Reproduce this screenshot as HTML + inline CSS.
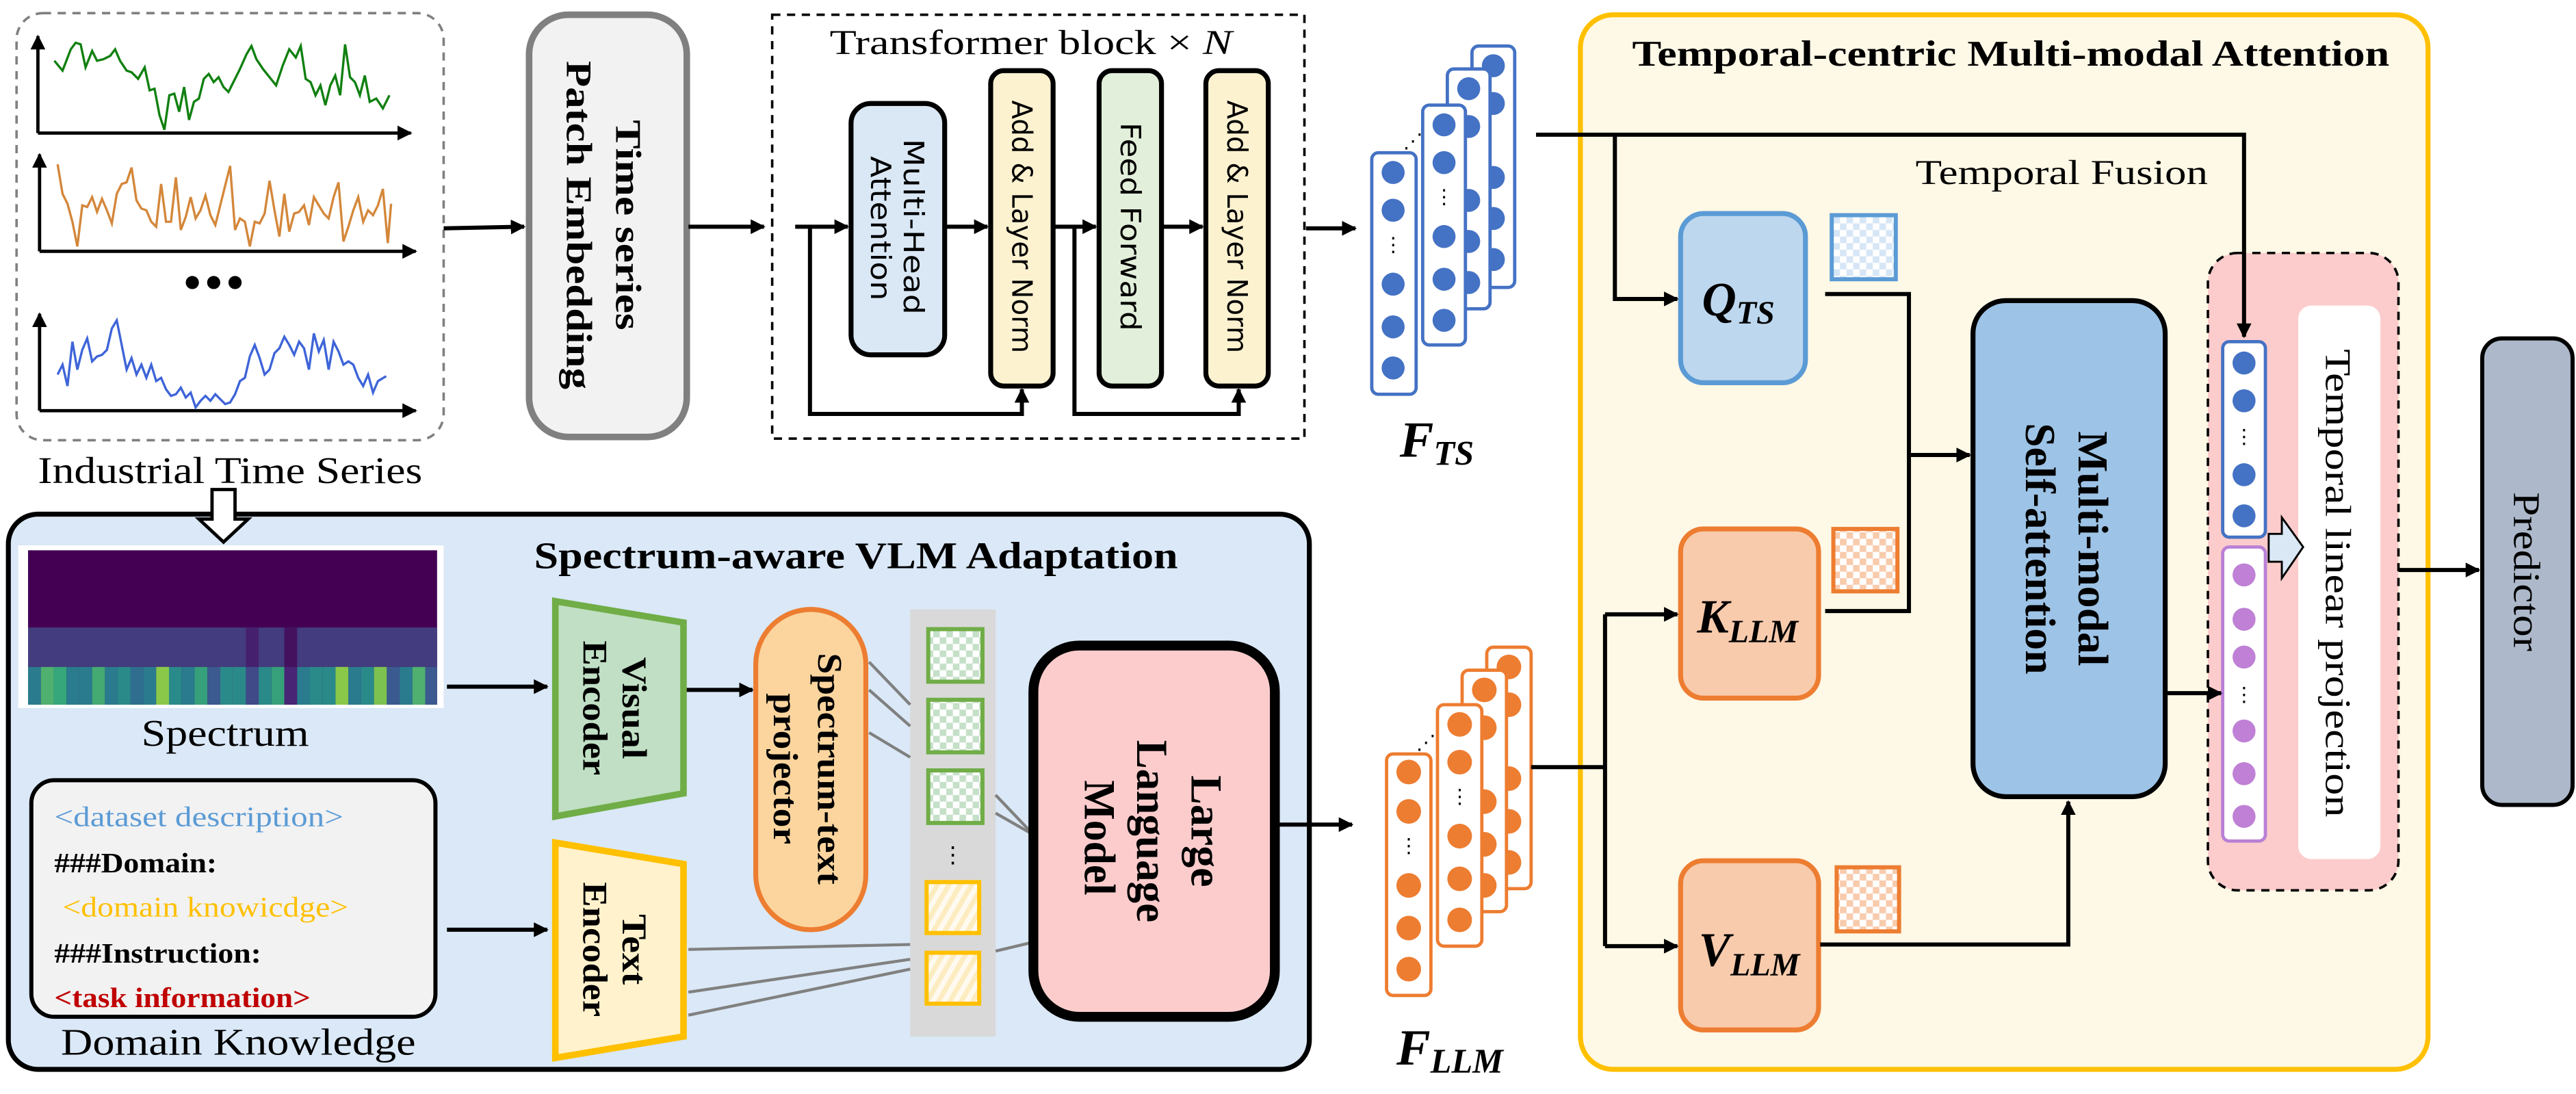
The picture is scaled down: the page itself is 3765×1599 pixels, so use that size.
<!DOCTYPE html>
<html><head><meta charset="utf-8"><style>html,body{margin:0;padding:0;background:#fff}svg{display:block;font-family:"Liberation Serif","Times New Roman",serif}</style></head><body>
<svg xmlns="http://www.w3.org/2000/svg" width="3765" height="1599" viewBox="0 0 1568 666">
<defs>
<marker id="ah" viewBox="0 0 10 10" refX="9" refY="5" markerWidth="9" markerHeight="9" markerUnits="userSpaceOnUse" orient="auto"><path d="M0,0 L10,5 L0,10 z" fill="#000"/></marker>
<pattern id="ckB" width="8" height="8" patternUnits="userSpaceOnUse"><rect width="8" height="8" fill="#fff"/><rect width="4" height="4" fill="#d6e6f6"/><rect x="4" y="4" width="4" height="4" fill="#d6e6f6"/></pattern>
<pattern id="ckO" width="8" height="8" patternUnits="userSpaceOnUse"><rect width="8" height="8" fill="#fff"/><rect width="4" height="4" fill="#f8cbad"/><rect x="4" y="4" width="4" height="4" fill="#f8cbad"/></pattern>
<pattern id="ckG" width="8" height="8" patternUnits="userSpaceOnUse"><rect width="8" height="8" fill="#fff"/><rect width="4" height="4" fill="#c5e0c8"/><rect x="4" y="4" width="4" height="4" fill="#c5e0c8"/></pattern>
<pattern id="hY" width="6" height="6" patternUnits="userSpaceOnUse" patternTransform="rotate(30)"><rect width="6" height="6" fill="#fffaf0"/><rect width="3" height="6" fill="#fdecc0"/></pattern>
</defs>

<rect x="10" y="8" width="260" height="260" rx="16" fill="#fff" stroke="#808080" stroke-width="1.5" stroke-dasharray="5,4"/>
<g stroke="#000" stroke-width="2" fill="none">
<path d="M23,81 V22" marker-end="url(#ah)"/><path d="M23,81 H250" marker-end="url(#ah)"/>
<path d="M24,153 V94" marker-end="url(#ah)"/><path d="M24,153 H253" marker-end="url(#ah)"/>
<path d="M24,250 V191" marker-end="url(#ah)"/><path d="M24,250 H253" marker-end="url(#ah)"/>
</g>
<polyline fill="none" stroke="#108010" stroke-width="1.4" points="33,37 38,43 43,30 46,26 49,27 52,41 56,31 59,37 63,36 67,34 70,30 73,37 77,43 80,44 84,48 88,41 91,55 94,54 97,70 100,79 103,58 106,57 109,68 112,53 115,73 118,62 121,60 124,48 127,45 130,50 133,47 136,53 139,56 142,50 146,42 150,33 153,28 156,36 160,42 164,47 168,52 172,40 176,30 180,35 183,28 186,48 189,50 192,58 195,52 198,64 201,52 204,46 207,58 210,27 213,47 216,50 219,58 222,46 225,62 229,60 233,66 237,58"/>
<polyline fill="none" stroke="#d4873a" stroke-width="1.4" points="35,100 38,118 41,124 44,135 47,150 50,125 53,126 56,120 59,129 62,121 65,128 68,136 71,118 74,112 77,111 80,102 83,122 86,127 89,128 92,135 95,138 98,112 101,135 104,135 107,108 110,140 113,132 116,120 119,133 122,128 125,119 128,131 131,137 134,125 137,113 140,101 143,140 146,133 149,135 152,150 155,135 158,136 161,130 164,110 167,128 170,144 173,118 176,141 179,130 182,129 185,125 188,137 191,120 194,125 197,130 200,133 203,120 206,111 209,147 212,138 215,128 218,120 221,135 224,128 227,131 230,125 233,115 236,148 238,124"/>
<polyline fill="none" stroke="#3e64d8" stroke-width="1.4" points="35,228 38,222 41,235 44,208 47,225 50,213 53,206 56,220 59,217 62,216 65,213 68,200 71,195 74,210 77,225 80,218 83,228 86,222 89,230 92,222 95,232 98,230 101,237 104,241 107,240 110,236 113,242 116,239 119,248 122,244 125,241 128,244 131,240 134,243 137,246 140,245 143,240 146,232 149,230 152,217 155,210 158,218 161,228 164,225 167,215 170,212 173,205 176,210 179,216 182,208 185,212 188,225 191,203 194,214 197,207 200,225 203,208 206,214 209,222 212,220 215,222 218,230 221,235 224,228 227,239 230,232 235,229"/>
<g fill="#000"><circle cx="117" cy="172" r="4"/><circle cx="130" cy="172" r="4"/><circle cx="143" cy="172" r="4"/></g>
<text x="140" y="294" font-size="23" text-anchor="middle" textLength="234" lengthAdjust="spacingAndGlyphs">Industrial Time Series</text>

<rect x="322" y="9" width="96" height="257" rx="24" fill="#f2f2f2" stroke="#808080" stroke-width="4"/>
<g font-weight="bold" font-size="22" text-anchor="middle">
<text transform="translate(382,137) rotate(90)" dominant-baseline="central" textLength="128" lengthAdjust="spacingAndGlyphs">Time series</text>
<text transform="translate(352,137) rotate(90)" dominant-baseline="central" textLength="200" lengthAdjust="spacingAndGlyphs">Patch Embedding</text>
</g>
<g stroke="#000" stroke-width="2.5" fill="none">
<path d="M270,139 L319,138" marker-end="url(#ah)"/>
<path d="M419,138 H465" marker-end="url(#ah)"/>
</g>

<rect x="470" y="9" width="324" height="258" fill="#fff" stroke="#000" stroke-width="1.5" stroke-dasharray="5,4"/>
<text x="505" y="33" font-size="21" textLength="245" lengthAdjust="spacingAndGlyphs">Transformer block  × <tspan font-style="italic">N</tspan></text>
<rect x="518" y="63" width="57" height="153" rx="12" fill="#dae8f5" stroke="#000" stroke-width="3"/>
<rect x="603" y="43" width="38" height="192" rx="8" fill="#fdf2d0" stroke="#000" stroke-width="3"/>
<rect x="669" y="43" width="38" height="192" rx="8" fill="#e2efda" stroke="#000" stroke-width="3"/>
<rect x="734" y="43" width="38" height="192" rx="8" fill="#fdf2d0" stroke="#000" stroke-width="3"/>
<g style="font-family:'DejaVu Sans','Liberation Sans',sans-serif" font-size="17" text-anchor="middle">
<text transform="translate(556,138) rotate(90)" dominant-baseline="central" textLength="107" lengthAdjust="spacingAndGlyphs">Multi-Head</text>
<text transform="translate(536,139) rotate(90)" dominant-baseline="central" textLength="88" lengthAdjust="spacingAndGlyphs">Attention</text>
<text transform="translate(622,138) rotate(90)" dominant-baseline="central" textLength="154" lengthAdjust="spacingAndGlyphs">Add &amp; Layer Norm</text>
<text transform="translate(688,138) rotate(90)" dominant-baseline="central" textLength="127" lengthAdjust="spacingAndGlyphs">Feed Forward</text>
<text transform="translate(753,138) rotate(90)" dominant-baseline="central" textLength="154" lengthAdjust="spacingAndGlyphs">Add &amp; Layer Norm</text>
</g>
<g stroke="#000" stroke-width="2.5" fill="none">
<path d="M484,138 H516" marker-end="url(#ah)"/>
<path d="M575,138 H601" marker-end="url(#ah)"/>
<path d="M641,138 H667" marker-end="url(#ah)"/>
<path d="M707,138 H732" marker-end="url(#ah)"/>
<path d="M493,138 V252 H622 V237" marker-end="url(#ah)"/>
<path d="M654,138 V252 H754 V237" marker-end="url(#ah)"/>
<path d="M795,139 H825" marker-end="url(#ah)"/>
</g>

<!-- F_TS stacks (back to front) -->
<g stroke-width="2">
<rect x="896" y="28" width="26" height="147" rx="4" fill="#fff" stroke="#4472c4"/>
<g fill="#4472c4"><circle cx="909" cy="40" r="7"/><circle cx="909" cy="63" r="7"/><circle cx="909" cy="108" r="7"/><circle cx="909" cy="133" r="7"/><circle cx="909" cy="158" r="7"/></g>
<rect x="881" y="42" width="26" height="146" rx="4" fill="#fff" stroke="#4472c4"/>
<g fill="#4472c4"><circle cx="894" cy="54" r="7"/><circle cx="894" cy="77" r="7"/><circle cx="894" cy="122" r="7"/><circle cx="894" cy="147" r="7"/><circle cx="894" cy="172" r="7"/></g>
<rect x="866" y="64" width="26" height="146" rx="4" fill="#fff" stroke="#4472c4"/>
<g fill="#4472c4"><circle cx="879" cy="76" r="7"/><circle cx="879" cy="99" r="7"/><circle cx="879" cy="144" r="7"/><circle cx="879" cy="170" r="7"/><circle cx="879" cy="195" r="7"/></g>
<rect x="835" y="93" width="27" height="147" rx="4" fill="#fff" stroke="#4472c4"/>
<g fill="#4472c4"><circle cx="848" cy="105" r="7"/><circle cx="848" cy="128" r="7"/><circle cx="848" cy="173" r="7"/><circle cx="848" cy="199" r="7"/><circle cx="848" cy="224" r="7"/></g>
</g>
<g font-size="12" text-anchor="middle"><text x="848" y="153">⋮</text><text x="879" y="124">⋮</text><text x="860" y="90">⋰</text></g>
<text x="852" y="278" font-size="31" font-weight="bold" font-style="italic">F<tspan font-size="21" dy="5">TS</tspan></text>

<rect x="5" y="313" width="792" height="338" rx="18" fill="#dae8f7" stroke="#000" stroke-width="3"/>
<path d="M129,298 H143 V316 H151 L136,330 L121,316 H129 Z" fill="#fff" stroke="#000" stroke-width="2"/>
<text x="521" y="346" font-size="23" font-weight="bold" text-anchor="middle" textLength="392" lengthAdjust="spacingAndGlyphs">Spectrum-aware VLM Adaptation</text>

<rect x="11" y="332" width="259" height="99" fill="#fff"/>
<rect x="17" y="335" width="249" height="94" fill="#440154"/>
<g>
<rect x="17" y="382" width="249" height="24" fill="#433c7e"/>
<rect x="17.0" y="406" width="7.8" height="23" fill="#2a7b8e"/><rect x="24.8" y="406" width="7.8" height="23" fill="#50b06f"/><rect x="32.6" y="406" width="7.8" height="23" fill="#35a77a"/><rect x="40.4" y="406" width="7.8" height="23" fill="#2a7b8e"/><rect x="48.2" y="406" width="7.8" height="23" fill="#2a7b8e"/><rect x="56.0" y="406" width="7.8" height="23" fill="#44aa72"/><rect x="63.8" y="406" width="7.8" height="23" fill="#2a7b8e"/><rect x="71.6" y="406" width="7.8" height="23" fill="#2a8a8a"/><rect x="79.4" y="406" width="7.8" height="23" fill="#2f6e8e"/><rect x="87.2" y="406" width="7.8" height="23" fill="#2a7b8e"/><rect x="95.0" y="406" width="7.8" height="23" fill="#8ac84a"/><rect x="102.8" y="406" width="7.8" height="23" fill="#2a8a8a"/><rect x="110.6" y="406" width="7.8" height="23" fill="#2a7b8e"/><rect x="118.4" y="406" width="7.8" height="23" fill="#35a07a"/><rect x="126.2" y="406" width="7.8" height="23" fill="#3b5a8f"/><rect x="134.0" y="406" width="7.8" height="23" fill="#2a8a8a"/><rect x="141.8" y="406" width="7.8" height="23" fill="#2a8a8a"/><rect x="149.6" y="406" width="7.8" height="23" fill="#404a88"/><rect x="157.4" y="406" width="7.8" height="23" fill="#2a8a8a"/><rect x="165.2" y="406" width="7.8" height="23" fill="#35a07a"/><rect x="173.0" y="406" width="7.8" height="23" fill="#482575"/><rect x="180.8" y="406" width="7.8" height="23" fill="#2a7b8e"/><rect x="188.6" y="406" width="7.8" height="23" fill="#2a8a8a"/><rect x="196.4" y="406" width="7.8" height="23" fill="#2a8a8a"/><rect x="204.2" y="406" width="7.8" height="23" fill="#8ac84a"/><rect x="212.0" y="406" width="7.8" height="23" fill="#2a7b8e"/><rect x="219.8" y="406" width="7.8" height="23" fill="#2a8a8a"/><rect x="227.6" y="406" width="7.8" height="23" fill="#7cc250"/><rect x="235.4" y="406" width="7.8" height="23" fill="#3b5a8f"/><rect x="243.2" y="406" width="7.8" height="23" fill="#2a7b8e"/><rect x="251.0" y="406" width="7.8" height="23" fill="#50b06f"/><rect x="258.8" y="406" width="7.2" height="23" fill="#3b5a8f"/>
<rect x="173" y="382" width="7.8" height="24" fill="#44115f"/><rect x="149.6" y="382" width="7.8" height="24" fill="#45206e"/>
</g>
<text x="137" y="454" font-size="23" text-anchor="middle" textLength="102" lengthAdjust="spacingAndGlyphs">Spectrum</text>

<rect x="19" y="475" width="246" height="144" rx="14" fill="#f2f2f2" stroke="#000" stroke-width="2.5"/>
<g font-size="17" font-weight="bold">
<text x="33" y="503" fill="#5b9bd5" font-weight="normal" textLength="176" lengthAdjust="spacingAndGlyphs">&lt;dataset description&gt;</text>
<text x="33" y="531" fill="#000" textLength="99" lengthAdjust="spacingAndGlyphs">###Domain:</text>
<text x="38" y="558" fill="#ffc000" font-weight="normal" textLength="174" lengthAdjust="spacingAndGlyphs">&lt;domain knowicdge&gt;</text>
<text x="33" y="586" fill="#000" textLength="126" lengthAdjust="spacingAndGlyphs">###Instruction:</text>
<text x="33" y="613" fill="#c00000" textLength="156" lengthAdjust="spacingAndGlyphs">&lt;task information&gt;</text>
</g>
<text x="145" y="642" font-size="23" text-anchor="middle" textLength="216" lengthAdjust="spacingAndGlyphs">Domain Knowledge</text>

<g stroke="#000" stroke-width="2.5" fill="none">
<path d="M272,418 H333" marker-end="url(#ah)"/>
<path d="M272,566 H333" marker-end="url(#ah)"/>
<path d="M416,420 H458" marker-end="url(#ah)"/>
</g>
<path d="M338,366 L416,379 L416,483 L338,497 Z" fill="#c0dfc4" stroke="#70ad47" stroke-width="4"/>
<path d="M338,513 L416,526 L416,631 L338,644 Z" fill="#fff2cc" stroke="#ffc000" stroke-width="4"/>
<g font-weight="bold" font-size="21" text-anchor="middle">
<text transform="translate(386,431) rotate(90)" dominant-baseline="central" textLength="62" lengthAdjust="spacingAndGlyphs">Visual</text>
<text transform="translate(362,431) rotate(90)" dominant-baseline="central" textLength="82" lengthAdjust="spacingAndGlyphs">Encoder</text>
<text transform="translate(386,578) rotate(90)" dominant-baseline="central" textLength="43" lengthAdjust="spacingAndGlyphs">Text</text>
<text transform="translate(362,578) rotate(90)" dominant-baseline="central" textLength="82" lengthAdjust="spacingAndGlyphs">Encoder</text>
</g>
<rect x="460" y="371" width="67" height="195" rx="33.5" fill="#fcd59e" stroke="#ed7d31" stroke-width="3"/>
<g font-weight="bold" font-size="21" text-anchor="middle">
<text transform="translate(505,468) rotate(90)" dominant-baseline="central" textLength="141" lengthAdjust="spacingAndGlyphs">Spectrum-text</text>
<text transform="translate(478,468) rotate(90)" dominant-baseline="central" textLength="92" lengthAdjust="spacingAndGlyphs">projector</text>
</g>
<rect x="554" y="371" width="52" height="260" fill="#d9d9d9"/>
<g stroke="#70ad47" stroke-width="2.5" fill="url(#ckG)">
<rect x="565" y="383" width="33" height="32"/><rect x="565" y="426" width="33" height="32"/><rect x="565" y="469" width="33" height="32"/>
</g>
<g stroke="#ffc000" stroke-width="2.5" fill="url(#hY)">
<rect x="564" y="537" width="32" height="31"/><rect x="564" y="580" width="32" height="31"/>
</g>
<text x="580" y="525" font-size="14" text-anchor="middle">⋮</text>
<g stroke="#808080" stroke-width="1.8">
<line x1="529" y1="403" x2="554" y2="429"/><line x1="529" y1="420" x2="554" y2="442"/><line x1="529" y1="446" x2="554" y2="461"/>
<line x1="606" y1="484" x2="627" y2="506"/><line x1="606" y1="495" x2="627" y2="507"/>
<line x1="419" y1="578" x2="554" y2="575"/><line x1="419" y1="604" x2="554" y2="584"/><line x1="419" y1="618" x2="554" y2="590"/>
<line x1="606" y1="579" x2="627" y2="574"/>
</g>
<rect x="629" y="393" width="147" height="226" rx="28" fill="#fccccc" stroke="#000" stroke-width="6"/>
<g font-weight="bold" font-size="27" text-anchor="middle">
<text transform="translate(734,506) rotate(90)" dominant-baseline="central" textLength="68" lengthAdjust="spacingAndGlyphs">Large</text>
<text transform="translate(701,506) rotate(90)" dominant-baseline="central" textLength="111" lengthAdjust="spacingAndGlyphs">Language</text>
<text transform="translate(669,510) rotate(90)" dominant-baseline="central" textLength="70" lengthAdjust="spacingAndGlyphs">Model</text>
</g>
<path d="M779,502 H823" stroke="#000" stroke-width="2.5" fill="none" marker-end="url(#ah)"/>

<!-- F_LLM stacks (back to front) -->
<g stroke-width="2">
<rect x="905" y="394" width="27" height="147" rx="4" fill="#fff" stroke="#ed7d31"/>
<g fill="#ed7d31"><circle cx="918.5" cy="406" r="7.5"/><circle cx="918.5" cy="429" r="7.5"/><circle cx="918.5" cy="474" r="7.5"/><circle cx="918.5" cy="500" r="7.5"/><circle cx="918.5" cy="525" r="7.5"/></g>
<rect x="890" y="408" width="27" height="147" rx="4" fill="#fff" stroke="#ed7d31"/>
<g fill="#ed7d31"><circle cx="903.5" cy="420" r="7.5"/><circle cx="903.5" cy="443" r="7.5"/><circle cx="903.5" cy="488" r="7.5"/><circle cx="903.5" cy="514" r="7.5"/><circle cx="903.5" cy="539" r="7.5"/></g>
<rect x="875" y="429" width="27" height="147" rx="4" fill="#fff" stroke="#ed7d31"/>
<g fill="#ed7d31"><circle cx="888.5" cy="441" r="7.5"/><circle cx="888.5" cy="464" r="7.5"/><circle cx="888.5" cy="509" r="7.5"/><circle cx="888.5" cy="535" r="7.5"/><circle cx="888.5" cy="560" r="7.5"/></g>
<rect x="844" y="459" width="27" height="147" rx="4" fill="#fff" stroke="#ed7d31"/>
<g fill="#ed7d31"><circle cx="857.5" cy="470" r="7.5"/><circle cx="857.5" cy="494" r="7.5"/><circle cx="857.5" cy="539" r="7.5"/><circle cx="857.5" cy="565" r="7.5"/><circle cx="857.5" cy="590" r="7.5"/></g>
</g>
<g font-size="12" text-anchor="middle"><text x="857.5" y="519">⋮</text><text x="888.5" y="489">⋮</text><text x="868" y="456">⋰</text></g>
<text x="850" y="648" font-size="31" font-weight="bold" font-style="italic">F<tspan font-size="21" dy="5">LLM</tspan></text>

<rect x="962" y="9" width="516" height="642" rx="20" fill="#fef8e6" stroke="#ffc000" stroke-width="3"/>
<text x="1224" y="40" font-size="22" font-weight="bold" text-anchor="middle" textLength="461" lengthAdjust="spacingAndGlyphs">Temporal-centric Multi-modal Attention</text>
<text x="1255" y="112" font-size="21" text-anchor="middle" textLength="178" lengthAdjust="spacingAndGlyphs">Temporal Fusion</text>

<rect x="1344" y="154" width="116" height="388" rx="18" fill="#fccccc" stroke="#000" stroke-width="1.5" stroke-dasharray="5,4"/>
<rect x="1399" y="186" width="50" height="337" rx="8" fill="#fff"/>
<text transform="translate(1423,355) rotate(90)" dominant-baseline="central" font-size="22" text-anchor="middle" textLength="285" lengthAdjust="spacingAndGlyphs">Temporal linear projection</text>
<rect x="1353" y="208" width="26" height="119" rx="4" fill="#fff" stroke="#4472c4" stroke-width="2"/>
<g fill="#4472c4"><circle cx="1366" cy="221" r="7"/><circle cx="1366" cy="244" r="7"/><circle cx="1366" cy="289" r="7"/><circle cx="1366" cy="314" r="7"/></g>
<text x="1366" y="270" font-size="12" text-anchor="middle">⋮</text>
<rect x="1353" y="333" width="26" height="179" rx="4" fill="#fff" stroke="#b880d6" stroke-width="2"/>
<g fill="#bf80d6"><circle cx="1366" cy="350" r="7"/><circle cx="1366" cy="377" r="7"/><circle cx="1366" cy="400" r="7"/><circle cx="1366" cy="445" r="7"/><circle cx="1366" cy="471" r="7"/><circle cx="1366" cy="497" r="7"/></g>
<text x="1366" y="427" font-size="12" text-anchor="middle">⋮</text>
<path d="M1381,325 H1389 V315 L1402,333 L1389,352 V342 H1381 Z" fill="#dae8f5" stroke="#000" stroke-width="1.2"/>

<rect x="1023" y="130" width="76" height="103" rx="14" fill="#bdd7ee" stroke="#5b9bd5" stroke-width="3"/>
<rect x="1023" y="322" width="84" height="103" rx="14" fill="#f8cbad" stroke="#ed7d31" stroke-width="3"/>
<rect x="1023" y="524" width="84" height="103" rx="14" fill="#f8cbad" stroke="#ed7d31" stroke-width="3"/>
<rect x="1115" y="131" width="39" height="39" fill="url(#ckB)" stroke="#5b9bd5" stroke-width="2.5"/>
<rect x="1116" y="322" width="39" height="38" fill="url(#ckO)" stroke="#ed7d31" stroke-width="2.5"/>
<rect x="1118" y="528" width="38" height="39" fill="url(#ckO)" stroke="#ed7d31" stroke-width="2.5"/>
<g font-weight="bold" font-style="italic" font-size="29">
<text x="1036" y="192">Q<tspan font-size="20" dy="5">TS</tspan></text>
<text x="1033" y="385">K<tspan font-size="20" dy="6">LLM</tspan></text>
<text x="1034" y="588">V<tspan font-size="20" dy="6">LLM</tspan></text>
</g>

<rect x="1201" y="183" width="117" height="302" rx="20" fill="#9dc3e6" stroke="#000" stroke-width="3"/>
<g font-weight="bold" font-size="26" text-anchor="middle">
<text transform="translate(1274,334) rotate(90)" dominant-baseline="central" textLength="143" lengthAdjust="spacingAndGlyphs">Multi-modal</text>
<text transform="translate(1242,334) rotate(90)" dominant-baseline="central" textLength="153" lengthAdjust="spacingAndGlyphs">Self-attention</text>
</g>

<rect x="1511" y="206" width="55" height="284" rx="12" fill="#adb9ca" stroke="#000" stroke-width="2.5"/>
<text transform="translate(1538,348) rotate(90)" dominant-baseline="central" font-size="23" text-anchor="middle" textLength="97" lengthAdjust="spacingAndGlyphs">Predictor</text>

<g stroke="#000" stroke-width="2.5" fill="none">
<path d="M935,82 H1366 V205" marker-end="url(#ah)"/>
<path d="M983,82 V182 H1021" marker-end="url(#ah)"/>
<path d="M1111,179 H1162 V372 H1111"/>
<path d="M1162,277 H1199" marker-end="url(#ah)"/>
<path d="M932,467 H977"/>
<path d="M977,374 V576"/>
<path d="M977,374 H1021" marker-end="url(#ah)"/>
<path d="M977,576 H1021" marker-end="url(#ah)"/>
<path d="M1108,575 H1259 V488" marker-end="url(#ah)"/>
<path d="M1318,422 H1352" marker-end="url(#ah)"/>
<path d="M1460,347 H1509" marker-end="url(#ah)"/>
</g>
</svg>
</body></html>
